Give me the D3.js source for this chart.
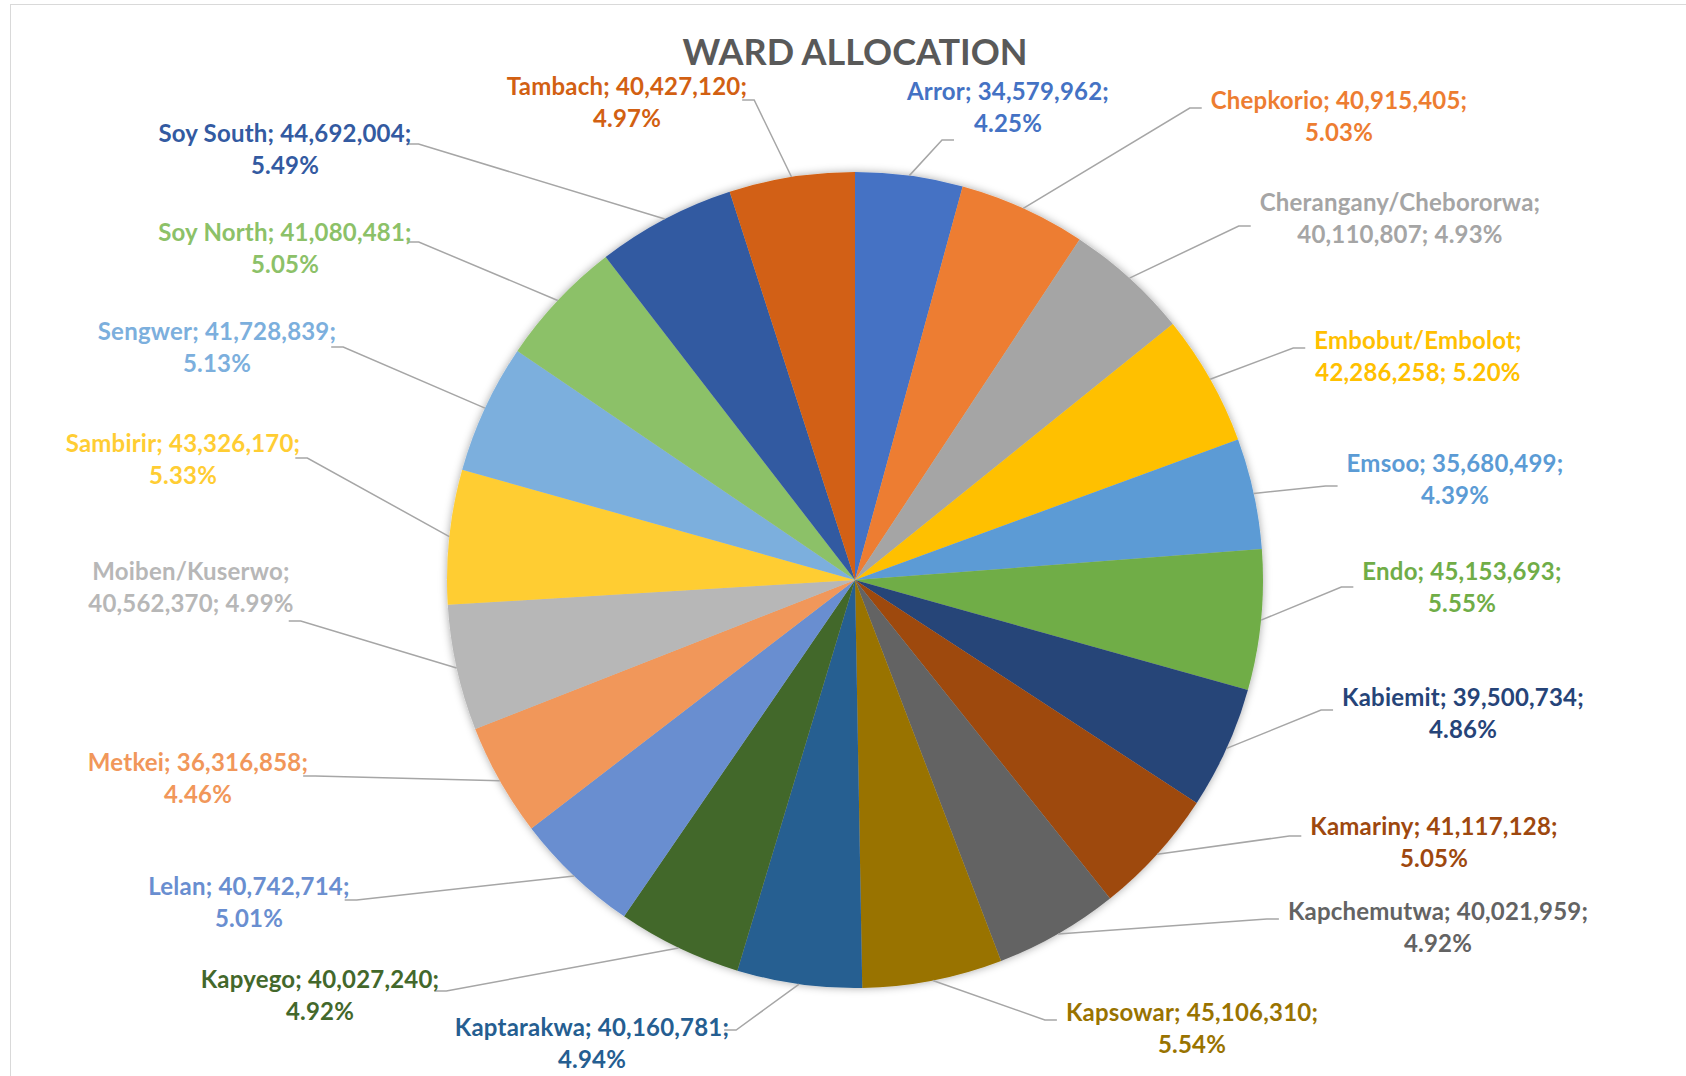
<!DOCTYPE html>
<html>
<head>
<meta charset="utf-8">
<script src="https://cdn.jsdelivr.net/npm/d3@7"></script>
<style>
    body { margin: 0; background: #fff; }
    svg { display: block; }
    text { font-family: Lato, "Open Sans", sans-serif; font-weight: 700; }
</style>
</head>
<body>
<div id="main"></div>
<script>
const wards = [
    'Arror', 'Chepkorio', 'Cherangany/Chebororwa', 'Embobut/Embolot', 'Emsoo',
    'Endo', 'Kabiemit', 'Kamariny', 'Kapchemutwa', 'Kapsowar',
    'Kaptarakwa', 'Kapyego', 'Lelan', 'Metkei', 'Moiben/Kuserwo',
    'Sambirir', 'Sengwer', 'Soy North', 'Soy South', 'Tambach'
];

const allocations = [
    34579962, 40915405, 40110807, 42286258, 35680499,
    45153693, 39500734, 41117128, 40021959, 45106310,
    40160781, 40027240, 40742714, 36316858, 40562370,
    43326170, 41728839, 41080481, 44692004, 40427120
];

const colors = [
    '#4472C4', '#ED7D31', '#A5A5A5', '#FFC000', '#5B9BD5',
    '#70AD47', '#264478', '#9E480E', '#636363', '#997300',
    '#255E91', '#43682B', '#698ED0', '#F1975A', '#B7B7B7',
    '#FFCD33', '#7CAFDD', '#8CC168', '#335AA1', '#D26012'
];

// where excel put each data label: centre of first line, side the leader leaves from, leader y offset
const labelLayout = [
    [1008, 92, 'b', 48], [1339, 101, 'l', 7], [1400, 203, 'l', 23], [1418, 341, 'l', 7],
    [1455, 464, 'l', 22], [1462, 572, 'l', 15], [1463, 698, 'l', 12], [1434, 827, 'l', 9],
    [1438, 912, 'l', 7], [1192, 1013, 'l', 7], [592, 1028, 'r', 2], [320, 980, 'r', 11],
    [249, 887, 'r', 13], [198, 763, 'r', 13], [191, 572, 'r', 49], [183, 444, 'r', 14],
    [217, 332, 'r', 15], [285, 233, 'r', 9], [285, 134, 'r', 10], [627, 87, 'r', 13]
];

const width = 1686, height = 1076;
const cx = 855, cy = 580, radius = 408;

const svg = d3.select('#main').append('svg')
    .attr('width', width)
    .attr('height', height);

let shadow = svg.append('defs').append('filter')
    .attr('id', 'shadow')
    .attr('x', '-10%').attr('y', '-10%')
    .attr('width', '120%').attr('height', '120%');
shadow.append('feDropShadow')
    .attr('dx', 0).attr('dy', 0)
    .attr('stdDeviation', 4)
    .attr('flood-color', '#000')
    .attr('flood-opacity', 0.35);

svg.append('rect')
    .attr('x', 10.5).attr('y', 4.5)
    .attr('width', width).attr('height', height)
    .attr('fill', '#fff')
    .attr('stroke', '#d9d9d9');

svg.append('text')
    .attr('x', cx).attr('y', 65)
    .attr('text-anchor', 'middle')
    .attr('fill', '#595959')
    .style('font-size', '36px')
    .text('WARD ALLOCATION');

let total = d3.sum(allocations);
let pie = d3.pie().sort(null).value(d => d);
let arcs = pie(allocations);
let arc = d3.arc().innerRadius(0).outerRadius(radius);

let g = svg.append('g').attr('transform', `translate(${cx}, ${cy})`);

g.append('g')
    .attr('filter', 'url(#shadow)')
    .selectAll('path')
    .data(arcs)
    .enter()
    .append('path')
    .attr('d', arc)
    .attr('fill', (d, i) => colors[i]);

let fmtNum = d3.format(',');
let fmtPct = d3.format('.2%');
let leaders = svg.append('g');
let labels = svg.append('g');

arcs.forEach((a, i) => {
    let [lx, ly, side, tdy] = labelLayout[i];
    let name = wards[i];
    let value = fmtNum(allocations[i]);
    let pct = fmtPct(allocations[i] / total);
    let lines = name.includes('/')
        ? [name + ';', value + '; ' + pct]
        : [name + '; ' + value + ';', pct];

    let t = labels.append('text')
        .attr('fill', colors[i])
        .attr('text-anchor', 'middle')
        .style('font-size', '24px')
        .style('letter-spacing', '0.2px');
    lines.forEach((s, k) => {
        t.append('tspan').attr('x', lx).attr('y', ly + 8 + k * 32).text(s);
    });
    let w = d3.max(t.selectAll('tspan').nodes(), n => n.getComputedTextLength());

    let mid = (a.startAngle + a.endAngle) / 2;
    let px = cx + radius * Math.sin(mid);
    let py = cy - radius * Math.cos(mid);
    let ty = ly + tdy;
    let pts;
    if (side === 'r') {
        let right = lx + w / 2;
        pts = [[right - 5, ty], [right + 7, ty], [px, py]];
    } else if (side === 'l') {
        let left = lx - w / 2;
        pts = [[left - 9, ty], [left - 21, ty], [px, py]];
    } else {
        let left = lx - w / 2;
        pts = [[left + 47, ty], [left + 35, ty], [px, py]];
    }

    leaders.append('path')
        .attr('d', d3.line()(pts))
        .attr('fill', 'none')
        .attr('stroke', '#a6a6a6')
        .attr('stroke-width', 1.5);
});
</script>
</body>
</html>
